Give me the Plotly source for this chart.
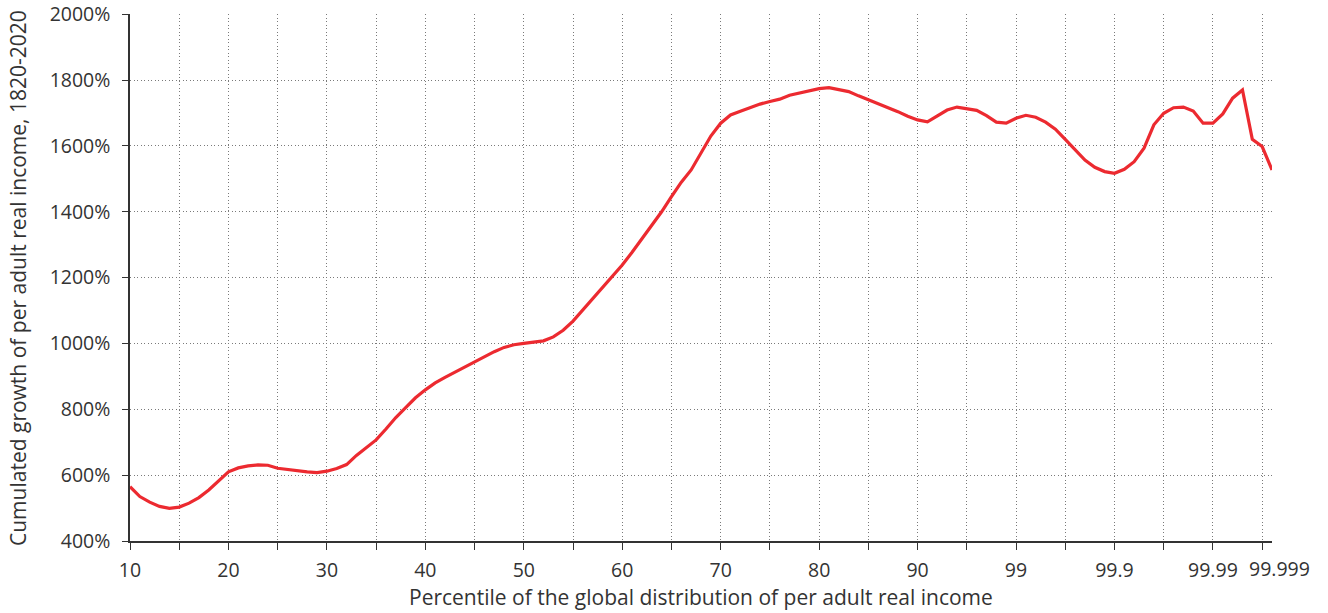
import plotly.graph_objects as go

# x positions on the chart's uniform percentile scale (10..90 linear, 99 -> 100, 99.9 -> 110, 99.99 -> 120, 99.999 -> 125)
x_pos = list(range(10, 127))
growth = [
    565, 535, 518, 505, 499, 503, 515, 532, 555, 582,      # 10-19
    610, 622, 628, 631, 630, 621, 617, 613, 610, 608,      # 20-29
    612, 620, 632, 660, 685, 707, 740, 775, 805, 835,      # 30-39
    859, 880, 897, 913, 929, 945, 961, 975, 988, 996,      # 40-49
    1000, 1003, 1008, 1020, 1040, 1068, 1102, 1138, 1173, 1206,  # 50-59
    1238, 1277, 1318, 1358, 1400, 1446, 1490, 1527, 1580, 1630,  # 60-69
    1669, 1694, 1705, 1717, 1727, 1735, 1742, 1754, 1760, 1767,  # 70-79
    1774, 1777, 1772, 1765, 1752, 1740, 1728, 1718, 1704, 1690,  # 80-89
    1679, 1673, 1690, 1709, 1718, 1714, 1708, 1692, 1672, 1669,  # 90-99
    1684, 1693, 1687, 1672, 1651, 1620, 1590, 1557, 1535, 1522,  # 100-109
    1517, 1529, 1552, 1593, 1664, 1699, 1716, 1718, 1706, 1669,  # 110-119
    1669, 1697, 1745, 1770, 1620, 1598, 1527,                    # 120-126
]
tick_vals = [10, 20, 30, 40, 50, 60, 70, 80, 90, 100, 110, 120, 125]
tick_text = ["10", "20", "30", "40", "50", "60", "70", "80", "90", "99", "99.9", "99.99", "99.999"]
y_ticks = list(range(400, 2001, 200))
y_text = [f"{v}%" for v in y_ticks]

FONT = "'Open Sans', Lato, sans-serif"
TXT = "#333333"
GRID = "#7a7a7a"
DOTS = "1px,2.5px"
TICK_SIZE = 19.5
TITLE_SIZE = 21

W, H = 1328, 613
L, R, T, B = 130, 56, 14, 72
pw, ph = W - L - R, H - T - B

# the last label is drawn separately (it sits right of its tick in the reference)
axis_text = tick_text[:-1] + [""]

fig = go.Figure()
fig.add_trace(go.Scatter(
    x=x_pos, y=growth, mode="lines",
    line=dict(color="#ec2a30", width=3.2),
    hoverinfo="skip", showlegend=False,
))

fig.update_layout(
    width=W, height=H,
    margin=dict(l=L, r=R, t=T, b=B, autoexpand=False),
    paper_bgcolor="white", plot_bgcolor="white",
    font=dict(family=FONT, color=TXT, size=TICK_SIZE),
)
fig.update_xaxes(
    range=[10, 126], automargin=False,
    tickmode="array", tickvals=tick_vals, ticktext=axis_text, tickangle=0,
    ticks="outside", ticklen=7, tickwidth=1.3, tickcolor="#333",
    showline=True, linecolor="#333", linewidth=1.5,
    showgrid=True, gridcolor=GRID, griddash=DOTS, gridwidth=1,
    minor=dict(dtick=5, tick0=0, ticks="outside", ticklen=7, tickwidth=1.3,
               tickcolor="#333", showgrid=True, gridcolor=GRID, griddash=DOTS, gridwidth=1),
    tickfont=dict(size=TICK_SIZE, color=TXT), ticklabelstandoff=4,
    zeroline=False,
)
fig.update_yaxes(
    range=[400, 2000.6], automargin=False,
    tickmode="array", tickvals=y_ticks, ticktext=y_text,
    ticks="outside", ticklen=6, tickwidth=1.3, tickcolor="#333",
    showline=True, linecolor="#333", linewidth=1.5,
    showgrid=True, gridcolor=GRID, griddash=DOTS, gridwidth=1,
    tickfont=dict(size=TICK_SIZE, color=TXT), ticklabelstandoff=8,
    zeroline=False,
)
fig.add_annotation(
    text=tick_text[-1], xref="x", yref="paper", x=tick_vals[-1], y=0,
    xanchor="center", yanchor="middle", xshift=17, yshift=-27, showarrow=False,
    font=dict(size=TICK_SIZE, color=TXT),
)
fig.add_annotation(
    text="Cumulated growth of per adult real income, 1820-2020",
    xref="paper", yref="paper", x=(18 - L) / pw, y=(H - B - 278) / ph,
    xanchor="center", yanchor="middle", textangle=-90, showarrow=False,
    font=dict(size=TITLE_SIZE, color=TXT),
)
fig.add_annotation(
    text="Percentile of the global distribution of per adult real income",
    xref="paper", yref="paper", x=(701 - L) / pw, y=-(597 - (H - B)) / ph,
    xanchor="center", yanchor="middle", showarrow=False,
    font=dict(size=TITLE_SIZE, color=TXT),
)

fig.write_html(
    "out.html",
    config={"displayModeBar": False},
    post_script="document.body.style.margin='0';document.body.style.padding='0';"
                "document.documentElement.style.overflow='hidden';",
)
